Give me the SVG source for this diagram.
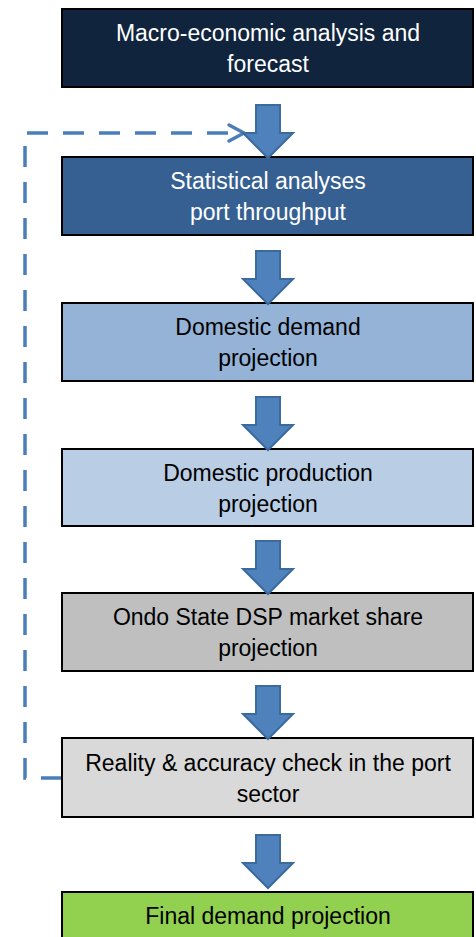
<svg xmlns="http://www.w3.org/2000/svg" width="476" height="937" viewBox="0 0 476 937">
<style>
.box{stroke:#000;stroke-width:2}
.t{font-family:"Liberation Sans",Arial,sans-serif;font-size:23px;text-anchor:middle}
.w{fill:#fff}
.k{fill:#000}
.arr{fill:#4F81BD;stroke:#3B6A9C;stroke-width:2;stroke-linejoin:miter}
.dash{fill:none;stroke:#4A7EBB;stroke-width:3.5;stroke-dasharray:21 15}
.chev{fill:none;stroke:#4A7EBB;stroke-width:3.5;stroke-linecap:round;stroke-linejoin:round}
</style>
<defs>
<path id="ar" d="M-12,0 H12 V28 H25 L0,53 L-25,28 H-12 Z"/>
</defs>
<rect width="476" height="937" fill="#fff"/>
<g id="connectors">
<path class="dash" d="M62,778 H25 V133 H243"/>
<polyline class="chev" points="229,125 244,133 229,141"/>
</g>
<g id="n1"><rect class="box" x="62" y="9" width="411" height="78" fill="#10243E"/>
<text class="t w" x="268" y="41">Macro-economic analysis and</text><text class="t w" x="268" y="72">forecast</text></g>
<g id="n2"><rect class="box" x="62" y="157" width="411" height="78" fill="#366092"/>
<text class="t w" x="268" y="189">Statistical analyses</text><text class="t w" x="268" y="220">port throughput</text></g>
<g id="n3"><rect class="box" x="62" y="303" width="411" height="78" fill="#95B3D7"/>
<text class="t k" x="268" y="335">Domestic demand</text><text class="t k" x="268" y="366">projection</text></g>
<g id="n4"><rect class="box" x="62" y="449" width="411" height="77" fill="#B9CDE5"/>
<text class="t k" x="268" y="481">Domestic production</text><text class="t k" x="268" y="512">projection</text></g>
<g id="n5"><rect class="box" x="62" y="593" width="411" height="78" fill="#BFBFBF"/>
<text class="t k" x="268" y="625">Ondo State DSP market share</text><text class="t k" x="268" y="656">projection</text></g>
<g id="n6"><rect class="box" x="62" y="738" width="411" height="79" fill="#D9D9D9"/>
<text class="t k" x="268" y="771">Reality &amp; accuracy check in the port</text><text class="t k" x="268" y="802">sector</text></g>
<g id="n7"><rect class="box" x="62" y="892" width="411" height="50" fill="#92D050"/>
<text class="t k" x="268" y="924">Final demand projection</text></g>
<g id="arrows">
<use href="#ar" class="arr" x="268" y="105"/>
<use href="#ar" class="arr" x="268" y="251"/>
<use href="#ar" class="arr" x="268" y="397"/>
<use href="#ar" class="arr" x="268" y="541"/>
<use href="#ar" class="arr" x="268" y="686"/>
<use href="#ar" class="arr" x="268" y="835"/>
</g>
</svg>
